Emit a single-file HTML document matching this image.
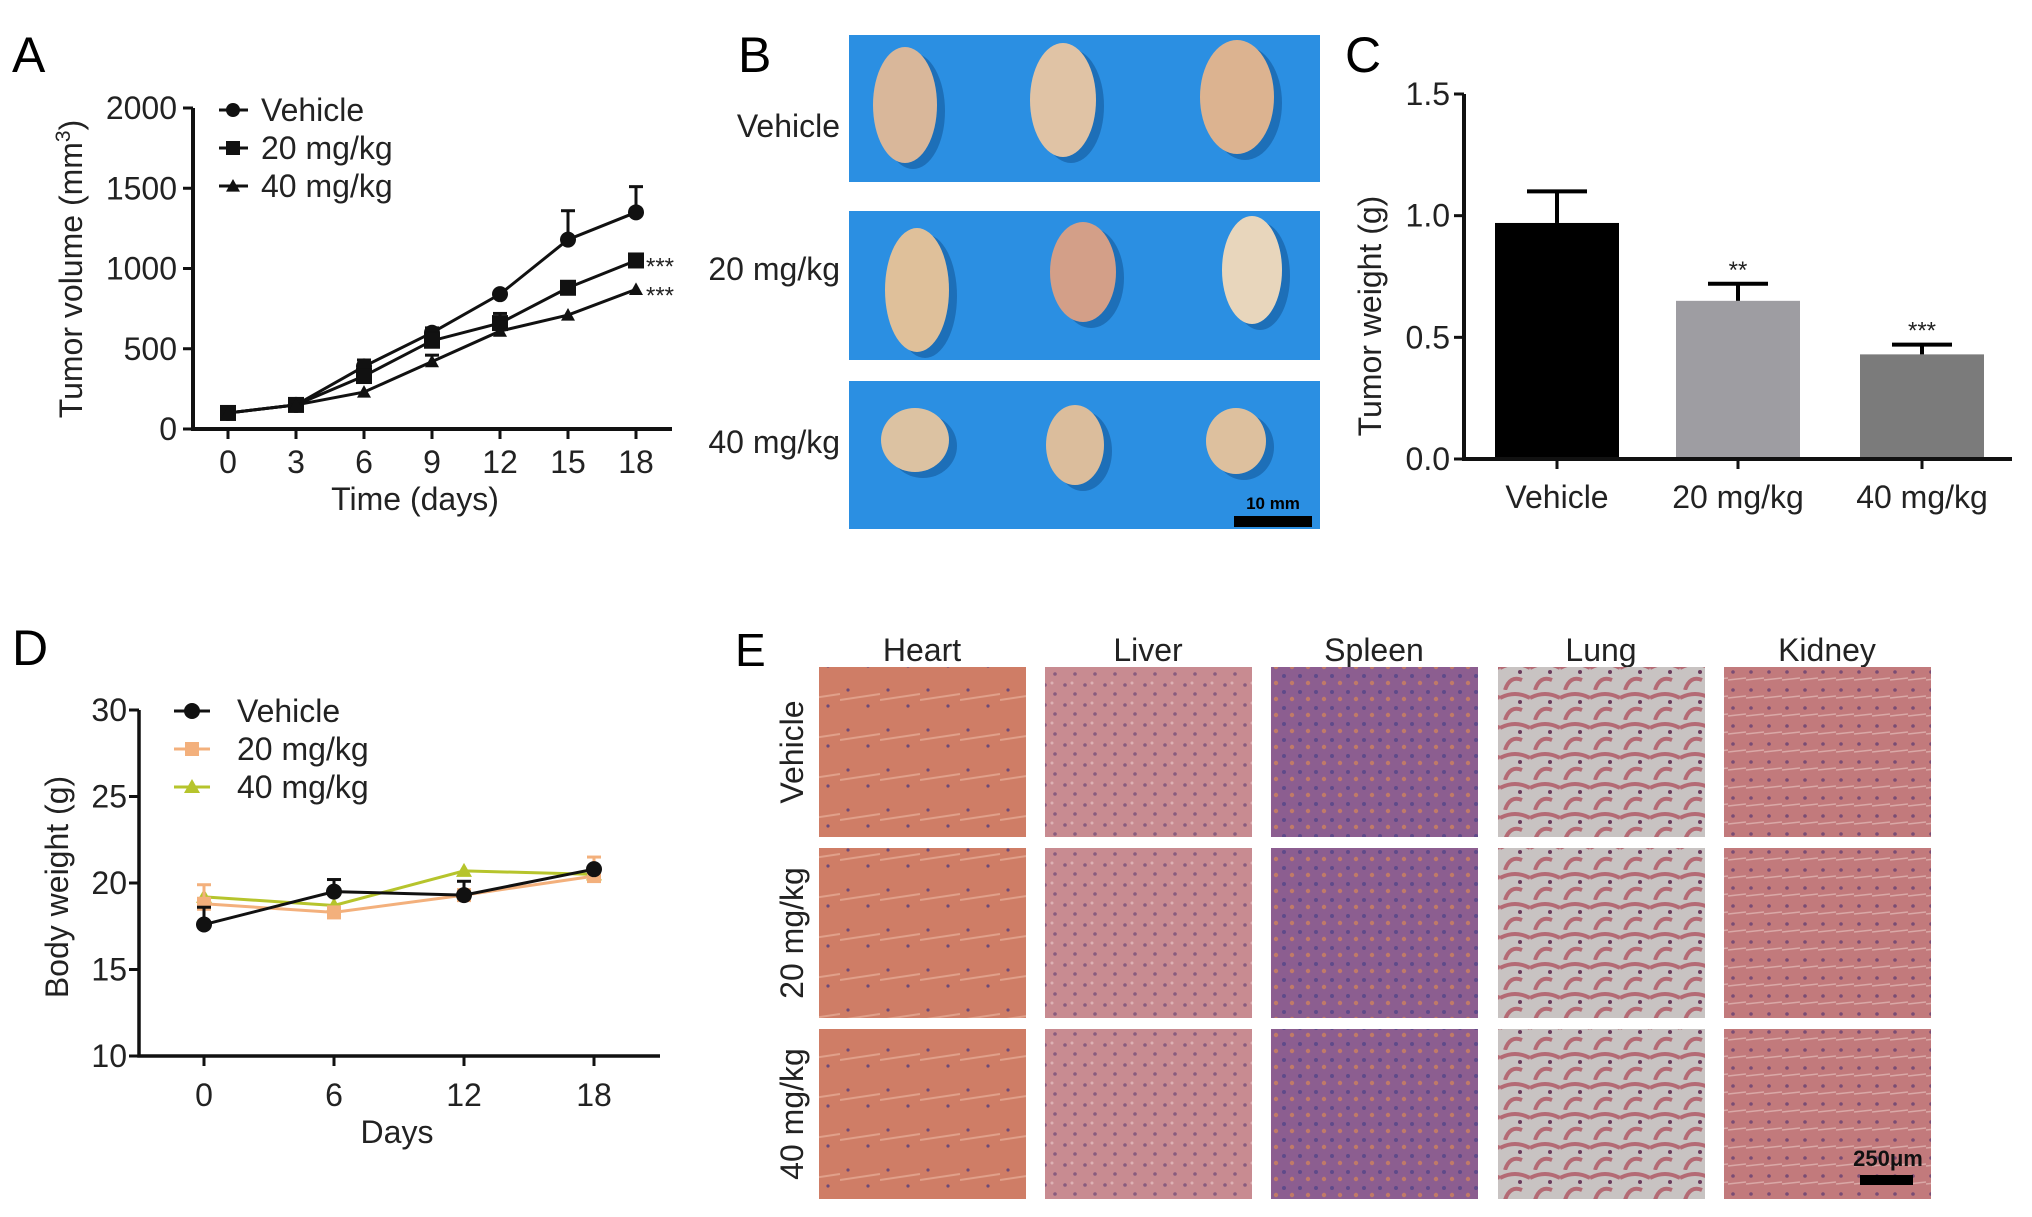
<!DOCTYPE html>
<html><head><meta charset="utf-8"><style>
html,body{margin:0;padding:0;background:#fff}
svg{display:block;font-family:"Liberation Sans",Arial,sans-serif}
</style></head><body>
<svg id="fig" width="2032" height="1217" viewBox="0 0 2032 1217" xmlns="http://www.w3.org/2000/svg">
<defs>
<pattern id="heartP" width="40" height="40" patternUnits="userSpaceOnUse"><rect width="40" height="40" fill="#cf7d66"/><circle cx="8" cy="10" r="1.6" fill="#6d4a78"/><circle cx="28" cy="26" r="1.6" fill="#6d4a78"/><path d="M0 20 L40 14" stroke="#e0a08a" stroke-width="2"/></pattern>
<pattern id="liverP" width="20" height="20" patternUnits="userSpaceOnUse"><rect width="20" height="20" fill="#c88b91"/><circle cx="5" cy="5" r="1.8" fill="#8a5c7e"/><circle cx="15" cy="14" r="1.8" fill="#8a5c7e"/><circle cx="12" cy="3" r="1.5" fill="#ddb1b4"/></pattern>
<pattern id="spleenP" width="16" height="16" patternUnits="userSpaceOnUse"><rect width="16" height="16" fill="#8c5e90"/><circle cx="4" cy="4" r="2" fill="#5f4a8a"/><circle cx="12" cy="11" r="2.2" fill="#c07a68"/></pattern>
<pattern id="lungP" width="30" height="30" patternUnits="userSpaceOnUse"><rect width="30" height="30" fill="#c8c3c2"/><path d="M0 8 Q15 0 30 8 M5 30 Q10 15 22 20" stroke="#b46a74" stroke-width="4" fill="none"/><circle cx="20" cy="12" r="2" fill="#6b3b5c"/></pattern>
<pattern id="kidneyP" width="18" height="18" patternUnits="userSpaceOnUse"><rect width="18" height="18" fill="#c27a7c"/><circle cx="5" cy="6" r="1.8" fill="#7a4c74"/><path d="M0 14 L18 12" stroke="#d9a8a6" stroke-width="1.5"/></pattern>
</defs>

<text x="12" y="72" font-size="50">A</text>
<text x="738" y="72" font-size="50">B</text>
<text x="1345" y="72" font-size="50">C</text>
<text x="12" y="665" font-size="50">D</text>
<text x="735" y="666" font-size="46">E</text>

<g id="panelA"></g>
<g id="panelB"></g>
<g id="panelC"></g>
<g id="panelD"></g>
<g id="panelE"></g>
</svg>
<script>
const aDays = [0,3,6,9,12,15,18];
const aVehicle = [100,150,390,600,840,1180,1350];
const aVehicleErr = [0,0,40,30,0,180,160];
const a20 = [100,150,330,550,660,880,1050];
const a20Err = [0,0,40,50,60,0,30];
const a40 = [100,150,230,420,610,710,870];
const a40Err = [0,0,0,40,0,0,0];
const aYTicks = [0,500,1000,1500,2000];
const aSeriesNames = ["Vehicle","20 mg/kg","40 mg/kg"];
const cCats = ["Vehicle","20 mg/kg","40 mg/kg"];
const cVals = [0.97,0.65,0.43];
const cErr = [0.13,0.07,0.04];
const cStars = ["","**","***"];
const cYTicks = [0.0,0.5,1.0,1.5];
const dDays = [0,6,12,18];
const dVehicle = [17.6,19.5,19.3,20.8];
const dVehicleErr = [1.0,0.7,0.8,0];
const d20 = [18.8,18.3,19.3,20.4];
const d20Err = [1.1,0,0,1.1];
const d40 = [19.2,18.7,20.7,20.5];
const d40Err = [0,0,0,0];
const dYTicks = [10,15,20,25,30];

const FS=32;
const NS="http://www.w3.org/2000/svg";
function el(parent,tag,attrs,text){const e=document.createElementNS(NS,tag);for(const k in attrs)e.setAttribute(k,attrs[k]);if(text!==undefined)e.textContent=text;parent.appendChild(e);return e;}

(function(){
const g=document.getElementById('panelA');
const x0=193,x1=672,yTop=108,yBot=429;
const xs=d=>228+(d/18)*(636-228);
const ys=v=>yBot-(v/2000)*(yBot-yTop);
let ax=el(g,'path',{d:`M${x0} ${yTop} V${yBot} H${x1}`,stroke:'#111','stroke-width':4,fill:'none'});

aYTicks.forEach(t=>{el(g,'line',{x1:x0-10,x2:x0,y1:ys(t),y2:ys(t),stroke:'#111','stroke-width':3});
 const tx=el(g,'text',{x:x0-16,y:ys(t)+11,'font-size':FS,'text-anchor':'end',fill:'#222'},t);
 });
aDays.forEach(d=>{el(g,'line',{x1:xs(d),x2:xs(d),y1:yBot,y2:yBot+10,stroke:'#111','stroke-width':3});
 const tx=el(g,'text',{x:xs(d),y:473,'font-size':FS,'text-anchor':'middle',fill:'#222'},d);
 });
let xt=el(g,'text',{x:415,y:510,'font-size':FS,'text-anchor':'middle',fill:'#222'},'Time (days)');

let yt=el(g,'text',{x:0,y:0,'font-size':FS,'text-anchor':'middle',fill:'#222',transform:'translate(82,269) rotate(-90)'});
yt.innerHTML='Tumor volume (mm<tspan dy="-12" font-size="21">3</tspan><tspan dy="12">)</tspan>';

function marker(parent,type,x,y,s){
 if(type==0)return el(parent,'circle',{cx:x,cy:y,r:s,fill:'#111'});
 if(type==1)return el(parent,'rect',{x:x-s,y:y-s,width:2*s,height:2*s,fill:'#111'});
 return el(parent,'path',{d:`M${x} ${y-s} L${x+s} ${y+s*0.8} L${x-s} ${y+s*0.8}Z`,fill:'#111'});
}
const series=[[aVehicle,aVehicleErr],[a20,a20Err],[a40,a40Err]];
series.forEach((s,i)=>{
 const sg=el(g,'g',{});
 
 el(sg,'polyline',{points:s[0].map((v,j)=>xs(aDays[j])+','+ys(v)).join(' '),fill:'none',stroke:'#111','stroke-width':3});
 s[0].forEach((v,j)=>{
  if(s[1][j]>0){el(sg,'line',{x1:xs(aDays[j]),x2:xs(aDays[j]),y1:ys(v),y2:ys(v+s[1][j]),stroke:'#111','stroke-width':3});
   el(sg,'line',{x1:xs(aDays[j])-7,x2:xs(aDays[j])+7,y1:ys(v+s[1][j]),y2:ys(v+s[1][j]),stroke:'#111','stroke-width':3});}
  const m=marker(sg,i,xs(aDays[j]),ys(v),i==2?7:8);
  
 });
});
[[a20,1],[a40,2]].forEach(p=>{const v=p[0][6];
 const st=el(g,'text',{x:xs(18)+10,y:ys(v)+14,'font-size':24,fill:'#222'},'***');
 });
aSeriesNames.forEach((n,i)=>{const y=110+i*38;
 const lg=el(g,'g',{});
 el(lg,'line',{x1:219,x2:248,y1:y,y2:y,stroke:'#111','stroke-width':3});
 marker(lg,i,233,y,7);
 el(lg,'text',{x:261,y:y+11,'font-size':FS,fill:'#222'},n);
});
})();

(function(){
const g=document.getElementById('panelB');
const rows=[[35,182,'Vehicle',126],[211,360,'20 mg/kg',269],[381,529,'40 mg/kg',442]];
const tumors=[
 [[905,105,32,58,'#d9b79a'],[1063,100,33,57,'#e0c3a5'],[1237,97,37,57,'#dcb390']],
 [[917,290,32,62,'#dfc09a'],[1083,272,33,50,'#d39f88'],[1252,270,30,54,'#e8d6bc']],
 [[915,440,34,32,'#dcc2a2'],[1075,445,29,40,'#dbbd9c'],[1236,441,30,33,'#ddc09e']]];
rows.forEach((r,i)=>{
 const bg=el(g,'rect',{x:849,y:r[0],width:471,height:r[1]-r[0],fill:'#2b8fe2'});
 
 const t=el(g,'text',{x:840,y:r[3]+11,'font-size':FS,'text-anchor':'end',fill:'#222'},r[2]);
 
 tumors[i].forEach(tm=>{
  el(g,'ellipse',{cx:tm[0]+8,cy:tm[1]+6,rx:tm[2],ry:tm[3],fill:'#1d6fb8'});
  const e=el(g,'ellipse',{cx:tm[0],cy:tm[1],rx:tm[2],ry:tm[3],fill:tm[4]});
  
 });
});
el(g,'rect',{x:1234,y:516,width:78,height:11,fill:'#000'});
const sb=el(g,'text',{x:1273,y:509,'font-size':17,'font-weight':'bold','text-anchor':'middle',fill:'#000'},'10 mm');

})();

(function(){
const g=document.getElementById('panelC');
const x0=1464,x1=2012,yTop=94,yBot=459;
const ys=v=>yBot-(v/1.5)*(yBot-yTop);
const centers=[1557,1738,1922],bw=124,colors=['#000','#9e9da2','#7b7b7b'];
cVals.forEach((v,i)=>{
 const b=el(g,'rect',{x:centers[i]-bw/2,y:ys(v),width:bw,height:yBot-ys(v),fill:colors[i]});
 
 el(g,'line',{x1:centers[i],x2:centers[i],y1:ys(v),y2:ys(v+cErr[i]),stroke:'#000','stroke-width':4});
 el(g,'line',{x1:centers[i]-30,x2:centers[i]+30,y1:ys(v+cErr[i]),y2:ys(v+cErr[i]),stroke:'#000','stroke-width':4});
 if(cStars[i]){const s=el(g,'text',{x:centers[i],y:ys(v+cErr[i])-6,'font-size':24,'text-anchor':'middle',fill:'#222'},cStars[i]);
  }
 el(g,'line',{x1:centers[i],x2:centers[i],y1:yBot,y2:yBot+10,stroke:'#111','stroke-width':3});
 const t=el(g,'text',{x:centers[i],y:508,'font-size':FS,'text-anchor':'middle',fill:'#222'},cCats[i]);
 
});
el(g,'path',{d:`M${x0} ${yTop} V${yBot} H${x1}`,stroke:'#111','stroke-width':4,fill:'none'});
cYTicks.forEach(t=>{el(g,'line',{x1:x0-10,x2:x0,y1:ys(t),y2:ys(t),stroke:'#111','stroke-width':3});
 const tx=el(g,'text',{x:x0-14,y:ys(t)+11,'font-size':FS,'text-anchor':'end',fill:'#222'},t.toFixed(1));
 });
const yt=el(g,'text',{'font-size':FS,'text-anchor':'middle',fill:'#222',transform:'translate(1381,316) rotate(-90)'},'Tumor weight (g)');

})();

(function(){
const g=document.getElementById('panelD');
const x0=139,x1=660,yTop=710,yBot=1056;
const xs=d=>204+(d/18)*(594-204);
const ys=v=>yBot-((v-10)/20)*(yBot-yTop);
el(g,'path',{d:`M${x0} ${yTop} V${yBot} H${x1}`,stroke:'#111','stroke-width':3.5,fill:'none'});
dYTicks.forEach(t=>{el(g,'line',{x1:x0-10,x2:x0,y1:ys(t),y2:ys(t),stroke:'#111','stroke-width':3});
 const tx=el(g,'text',{x:x0-12,y:ys(t)+11,'font-size':FS,'text-anchor':'end',fill:'#222'},t);
 });
dDays.forEach(d=>{el(g,'line',{x1:xs(d),x2:xs(d),y1:yBot,y2:yBot+10,stroke:'#111','stroke-width':3});
 const tx=el(g,'text',{x:xs(d),y:1106,'font-size':FS,'text-anchor':'middle',fill:'#222'},d);
 });
const xt=el(g,'text',{x:397,y:1143,'font-size':FS,'text-anchor':'middle',fill:'#222'},'Days');

const yt=el(g,'text',{'font-size':FS,'text-anchor':'middle',fill:'#222',transform:'translate(68,887) rotate(-90)'},'Body weight (g)');

const series=[[d40,d40Err,'#b6c42c',2],[d20,d20Err,'#f3b07c',1],[dVehicle,dVehicleErr,'#111',0]];
function marker(p,type,x,y,c){
 if(type==0)return el(p,'circle',{cx:x,cy:y,r:8,fill:c});
 if(type==1)return el(p,'rect',{x:x-7,y:y-7,width:14,height:14,fill:c});
 return el(p,'path',{d:`M${x} ${y-8} L${x+8} ${y+6} L${x-8} ${y+6}Z`,fill:c});
}
series.forEach(s=>{
 const sg=el(g,'g',{});
 el(sg,'polyline',{points:s[0].map((v,j)=>xs(dDays[j])+','+ys(v)).join(' '),fill:'none',stroke:s[2],'stroke-width':3});
 s[0].forEach((v,j)=>{
  if(s[1][j]>0){el(sg,'line',{x1:xs(dDays[j]),x2:xs(dDays[j]),y1:ys(v),y2:ys(v+s[1][j]),stroke:s[2],'stroke-width':3});
   el(sg,'line',{x1:xs(dDays[j])-7,x2:xs(dDays[j])+7,y1:ys(v+s[1][j]),y2:ys(v+s[1][j]),stroke:s[2],'stroke-width':3});}
  const m=marker(sg,s[3],xs(dDays[j]),ys(v),s[2]);
  
 });
});
[['Vehicle','#111',0],['20 mg/kg','#f3b07c',1],['40 mg/kg','#b6c42c',2]].forEach((l,i)=>{
 const y=711+i*38;const lg=el(g,'g',{});
 
 el(lg,'line',{x1:174,x2:210,y1:y,y2:y,stroke:l[1],'stroke-width':3});
 marker(lg,l[2],192,y,l[1]);
 el(lg,'text',{x:237,y:y+11,'font-size':FS,fill:'#222'},l[0]);
});
})();

(function(){
const g=document.getElementById('panelE');
const cols=[[819,'Heart','heartP'],[1045,'Liver','liverP'],[1271,'Spleen','spleenP'],[1498,'Lung','lungP'],[1724,'Kidney','kidneyP']];
const rows=[[667,'Vehicle'],[848,'20 mg/kg'],[1029,'40 mg/kg']];
cols.forEach(c=>{
 const t=el(g,'text',{x:c[0]+103,y:661,'font-size':FS,'text-anchor':'middle',fill:'#222'},c[1]);
 
 rows.forEach(r=>{
  const im=el(g,'rect',{x:c[0],y:r[0],width:207,height:170,fill:`url(#${c[2]})`});
  
 });
});
rows.forEach(r=>{
 const t=el(g,'text',{'font-size':FS,'text-anchor':'middle',fill:'#222',transform:`translate(803,${r[0]+85}) rotate(-90)`},r[1]);
 
});
el(g,'rect',{x:1860,y:1175,width:53,height:10,fill:'#000'});
const sb=el(g,'text',{x:1888,y:1166,'font-size':22,'font-weight':'bold','text-anchor':'middle',fill:'#111'},'250μm');

})();
</script>
</body></html>
